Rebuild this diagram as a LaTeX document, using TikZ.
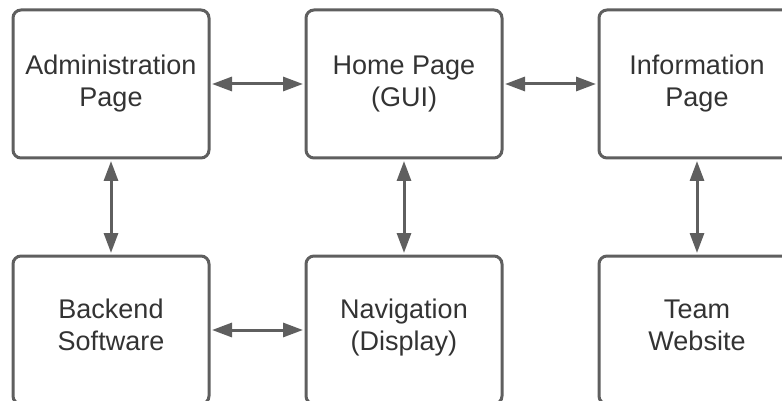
\documentclass[tikz,border=0pt]{standalone}
\usepackage{fontspec}
\setmainfont{Liberation Sans}
\usetikzlibrary{arrows.meta}
\definecolor{edge}{HTML}{5F5F5F}
\definecolor{txt}{HTML}{333333}
\tikzset{
  box/.style={draw=edge, line width=3pt, rounded corners=8pt, fill=white,
    minimum width=196pt, minimum height=148pt, inner sep=0pt},
  lbl/.style={align=center, text=txt, font=\fontsize{27}{32}\selectfont, inner sep=0pt},
  link/.style={draw=edge, line width=3pt,
    {Triangle[length=20pt,width=14pt]}-{Triangle[length=20pt,width=14pt]},
    shorten <=1.5pt, shorten >=1.5pt}
}
\begin{document}
\begin{tikzpicture}[x=1pt,y=-1pt]
\useasboundingbox (0,0) rectangle (782,401);
\clip (0,0) rectangle (782,401);
\node[box] (admin) at (111,84) {};
\node[box] (home) at (404,84) {};
\node[box] (info) at (697,84) {};
\node[box] (back) at (111,330) {};
\node[box] (nav) at (404,330) {};
\node[box] (team) at (697,330) {};
\node[lbl] (adminT) at (111,84.5) {\strut Administration\\\strut Page};
\node[lbl] (homeT) at (404,84.5) {\strut Home Page\\\strut (GUI)};
\node[lbl] (infoT) at (697,84.5) {\strut Information\\\strut Page};
\node[lbl] (backT) at (111,328.5) {\strut Backend\\\strut Software};
\node[lbl] (navT) at (404,328.5) {\strut Navigation\\\strut (Display)};
\node[lbl] (teamT) at (697,328.5) {\strut Team\\\strut Website};
\draw[link] (admin.east) -- (home.west);
\draw[link] (home.east) -- (info.west);
\draw[link] (back.east) -- (nav.west);
\draw[link] (admin.south) -- (back.north);
\draw[link] (home.south) -- (nav.north);
\draw[link] (info.south) -- (team.north);
\end{tikzpicture}
\end{document}
